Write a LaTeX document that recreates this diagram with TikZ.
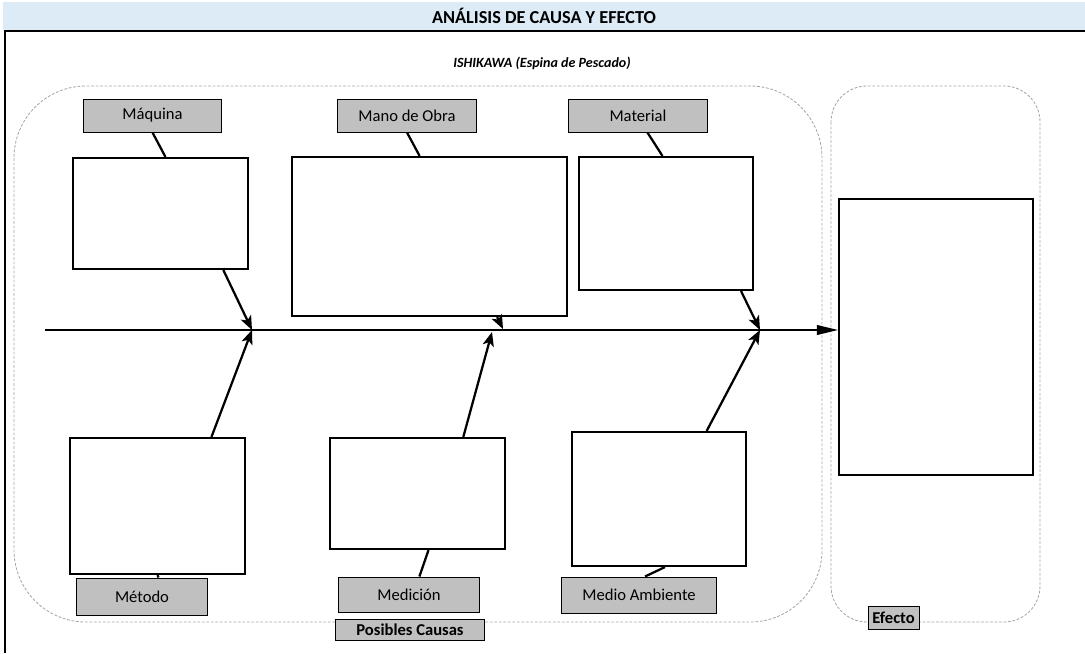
\documentclass[tikz,border=0pt]{standalone}
\usepackage{fontspec}
\setmainfont{Carlito}
\usetikzlibrary{arrows.meta}
\definecolor{cabecera}{HTML}{DDEBF7}
\definecolor{etiq}{HTML}{C0C0C0}
\definecolor{gris}{HTML}{A6A6A6}
\tikzset{etiqueta/.style={draw=black,fill=etiq,line width=0.7pt,inner sep=0pt,font=\fontsize{11.8}{14}\selectfont}}
\tikzset{caja/.style={draw=black,fill=white,line width=1.5pt,inner sep=0pt}}
\tikzset{zona/.style={draw=gris,dash pattern=on 2pt off 1.2pt,line width=0.6pt}}
\tikzset{hueso/.style={line width=1.6pt,-{Stealth[length=10pt,width=8pt,inset=2.5pt]}}}
\tikzset{enlace/.style={line width=1.6pt}}
\tikzset{espina/.style={line width=0.9pt,-{Triangle[length=15pt,width=7pt]}}}

\begin{document}
\begin{tikzpicture}[x=0.025cm,y=-0.025cm]
    \useasboundingbox (0,0) rectangle (1085,653);

    \node[fill=cabecera,minimum width=27.05cm,minimum height=0.7cm,inner sep=0pt,font=\bfseries\fontsize{13}{15}\selectfont] (head) at (544,16) {ANÁLISIS DE CAUSA Y EFECTO};
    \draw[line width=1.5pt] (1085,31) -- (5,31) -- (5,653);
    \node[font=\bfseries\itshape\fontsize{10}{12}\selectfont] (sub) at (542,63) {ISHIKAWA (Espina de Pescado)};

    % zonas
    \draw[zona,rounded corners=1.8cm] (14,86) rectangle (822,622);
    \draw[zona,rounded corners=0.9cm] (831,86) rectangle (1040,622);

    % etiquetas
    \node[etiqueta,minimum width=3.45cm,minimum height=0.825cm] (maquina) at (152.5,115.5) {Máquina};
    \node[etiqueta,minimum width=3.45cm,minimum height=0.825cm] (obra) at (407,115.5) {Mano de Obra};
    \node[etiqueta,minimum width=3.45cm,minimum height=0.825cm] (material) at (638,115.5) {Material};
    \node[etiqueta,minimum width=3.25cm,minimum height=0.925cm] (metodo) at (142,596.5) {Método};
    \node[etiqueta,minimum width=3.5cm,minimum height=0.875cm] (medicion) at (409,594.5) {Medición};
    \node[etiqueta,minimum width=3.85cm,minimum height=0.9cm] (medio) at (639,595) {Medio Ambiente};
    \node[etiqueta,minimum width=3.7cm,minimum height=0.525cm,font=\bfseries\fontsize{11.8}{14}\selectfont] (causas) at (410,630) {Posibles Causas};
    \node[etiqueta,minimum width=1.275cm,minimum height=0.575cm,font=\bfseries\fontsize{11.8}{14}\selectfont] (efecto) at (893.5,617.5) {Efecto};

    % cajas
    \node[caja,minimum width=4.375cm,minimum height=2.775cm] (c1) at (160.5,213.5) {};
    \node[caja,minimum width=6.875cm,minimum height=3.975cm] (c2) at (429.5,236.5) {};
    \node[caja,minimum width=4.35cm,minimum height=3.325cm] (c3) at (666,223.5) {};
    \node[caja,minimum width=4.375cm,minimum height=3.4cm] (c4) at (157.5,506) {};
    \node[caja,minimum width=4.375cm,minimum height=2.775cm] (c5) at (417.5,493.5) {};
    \node[caja,minimum width=4.35cm,minimum height=3.35cm] (c6) at (659,499) {};
    \node[caja,minimum width=4.85cm,minimum height=6.9cm] (fx) at (936,337) {};

    % espina
    \coordinate (tail) at (45,330);
    \coordinate (j1) at (252,330);
    \coordinate (j2a) at (503,329);
    \coordinate (j2b) at (492,332);
    \coordinate (j3) at (760,330);
    \draw[espina] (tail) -- (tail -| fx.west);

    \draw[enlace] (maquina.south) -- (c1.85);
    \draw[hueso] (c1.-42) -- (j1);
    \draw[hueso] (c4.52) -- (j1);
    \draw[enlace] (c4.south) -- (metodo.49);

    \draw[enlace] (obra.south) -- (c2.97);
    \draw[hueso] (c2.-50) -- (j2a);
    \draw[hueso] (c5.51) -- (j2b);
    \draw[enlace] (c5.-79) -- (medicion.60);

    \draw[enlace] (material.-61) -- (c3.93);
    \draw[hueso] (c3.-42) -- (j3);
    \draw[hueso] (c6.55) -- (j3);
    \draw[enlace] (c6.-85) -- (medio.72);
\end{tikzpicture}
\end{document}
